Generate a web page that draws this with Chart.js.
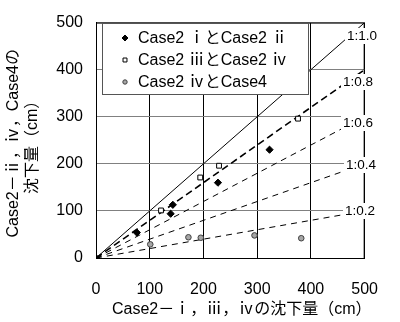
<!DOCTYPE html>
<html>
<head>
<meta charset="utf-8">
<script src="https://cdn.jsdelivr.net/npm/chart.js@4"></script>
<style>
  html, body { margin: 0; padding: 0; background: #fff; }
  #wrap { width: 400px; height: 322px; }
</style>
</head>
<body>
<div id="wrap"><canvas id="chart"></canvas></div>
<script>
// Series values
const labels = ["Case2 ⅰとCase2 ⅱ", "Case2 ⅲとCase2 ⅳ", "Case2 ⅳとCase4"];
const case1X = [0, 76, 139, 143, 227, 323];
const case1Y = [0, 54, 94, 113, 160, 230];
const case2X = [121, 194, 229, 376, 499];
const case2Y = [101, 171, 196, 296, 383];
const case3X = [101, 172, 195, 295, 382];
const case3Y = [29, 44, 43, 48, 42];

// Reference ratio lines 1:r
const ratios = [1.0, 0.8, 0.6, 0.4, 0.2];
const ratioLabels = ["1:1.0", "1:0.8", "1:0.6", "1:0.4", "1:0.2"];
const ticks = [0, 100, 200, 300, 400, 500];

const FONT = "'Liberation Sans', 'Noto Sans CJK JP', sans-serif";

function pts(xs, ys) {
    return xs.map((x, i) => ({ x: x, y: ys[i] }));
}

const refSets = ratios.map((r, i) => ({
    label: ratioLabels[i],
    data: [{ x: 0, y: 0 }, { x: 500, y: 500 * r }],
    showLine: true,
    borderColor: "#000",
    borderWidth: r === 0.8 ? 1.6 : 1,
    borderDash: r === 1.0 ? [] : (r === 0.8 ? [7, 4] : [6, 5]),
    pointRadius: 0,
    order: 10
}));

const markerSets = [
    { label: labels[0], data: pts(case1X, case1Y), pointStyle: "rectRot", pointRadius: 3.6,
      backgroundColor: "#000", borderColor: "#000", borderWidth: 1, legendR: 3 },
    { label: labels[1], data: pts(case2X, case2Y), pointStyle: "rect", pointRadius: 3.4,
      backgroundColor: "#fff", borderColor: "#000", borderWidth: 1, legendR: 2.8 },
    { label: labels[2], data: pts(case3X, case3Y), pointStyle: "circle", pointRadius: 2.8,
      backgroundColor: "#a6a6a6", borderColor: "#404040", borderWidth: 1, legendR: 2.2 }
];

// Border, ratio labels, legend box and axis titles
const decor = {
    id: "decor",
    afterDatasetsDraw(chart) {
        const ctx = chart.ctx;
        const a = chart.chartArea;
        ctx.save();
        ctx.strokeStyle = "#000";
        ctx.lineWidth = 1;
        ctx.strokeRect(a.left + 0.5, a.top + 0.5, a.right - a.left - 1, a.bottom - a.top);

        // ratio labels with white background
        ctx.font = "13.5px " + FONT;
        ctx.textAlign = "center";
        ctx.textBaseline = "middle";
        const labelPos = [[362, 36], [358, 82], [358, 123], [361, 165], [360, 211]];
        ratioLabels.forEach((t, i) => {
            const w = ctx.measureText(t).width + 4;
            ctx.fillStyle = "#fff";
            ctx.fillRect(labelPos[i][0] - w / 2, labelPos[i][1] - 8, w, 16);
            ctx.fillStyle = "#000";
            ctx.fillText(t, labelPos[i][0], labelPos[i][1]);
        });

        // legend
        const lx = 102, ly = 23, lw = 206, lh = 71;
        ctx.fillStyle = "#fff";
        ctx.fillRect(lx, ly, lw, lh);
        ctx.strokeStyle = "#555";
        ctx.strokeRect(lx + 0.5, ly + 0.5, lw, lh);
        ctx.font = "16px " + FONT;
        ctx.textAlign = "left";
        const rows = [38, 60, 82];
        markerSets.forEach((ds, i) => {
            ctx.fillStyle = ds.backgroundColor;
            ctx.strokeStyle = ds.borderColor;
            ctx.lineWidth = 1;
            Chart.helpers.drawPoint(ctx, {
                pointStyle: ds.pointStyle, radius: ds.legendR,
                borderWidth: 1, rotation: 0
            }, 125, rows[i]);
            ctx.fillStyle = "#000";
            ctx.fillText(ds.label, 138, rows[i] + 1);
        });
        ctx.restore();
    },
    afterDraw(chart) {
        const ctx = chart.ctx;
        const a = chart.chartArea;
        ctx.save();
        ctx.fillStyle = "#000";
        ctx.font = "16px " + FONT;
        ctx.textAlign = "left";
        ctx.textBaseline = "middle";
        ctx.fillText("Case2－ⅰ，ⅲ，ⅳの沈下量（cm）", 112, 310);
        ctx.textAlign = "center";
        const cy = (a.top + a.bottom) / 2 + 3;
        ctx.translate(14, cy);
        ctx.rotate(-Math.PI / 2);
        ctx.fillText("Case2－ⅱ，ⅳ，Case4の", 0, 0);
        ctx.fillText("沈下量（cm）", 0, 19);
        ctx.restore();
    }
};

new Chart(document.getElementById("chart"), {
    type: "scatter",
    data: { datasets: markerSets.concat(refSets) },
    options: {
        responsive: true,
        maintainAspectRatio: false,
        animation: false,
        layout: { padding: { top: 16, right: 16, left: 0, bottom: 0 } },
        plugins: { legend: { display: false }, tooltip: { enabled: false } },
        scales: {
            x: {
                type: "linear", min: 0, max: 500,
                afterBuildTicks: s => { s.ticks = ticks.map(v => ({ value: v })); },
                afterFit: s => { s.height = 64; },
                grid: { color: "#000", lineWidth: 1, drawTicks: false },
                border: { color: "#000" },
                ticks: { color: "#000", font: { size: 16, family: FONT }, padding: 22, maxRotation: 0 }
            },
            y: {
                type: "linear", min: 0, max: 500,
                afterBuildTicks: s => { s.ticks = ticks.map(v => ({ value: v })); },
                afterFit: s => { s.width = 96; },
                grid: { color: "#808080", lineWidth: 1, drawTicks: false },
                border: { color: "#000" },
                ticks: { color: "#000", font: { size: 16, family: FONT }, padding: 13 }
            }
        }
    },
    plugins: [decor]
});
</script>
</body>
</html>
